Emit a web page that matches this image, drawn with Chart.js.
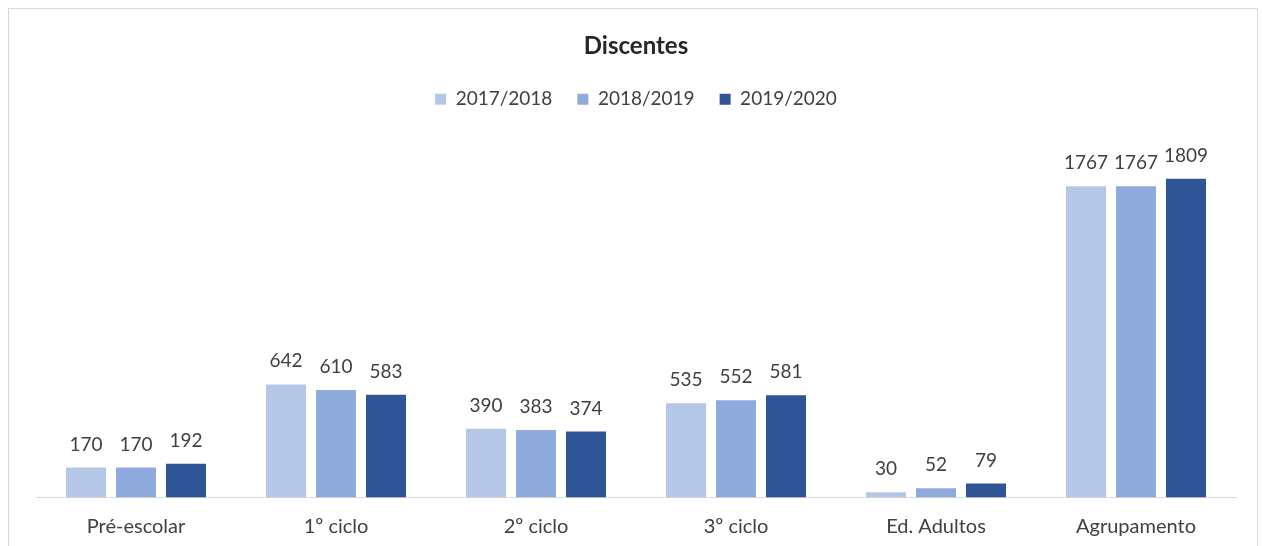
<!DOCTYPE html>
<html>
<head>
<meta charset="utf-8">
<script src="https://cdn.jsdelivr.net/npm/chart.js@4.4.1/dist/chart.umd.min.js"></script>
<style>
  html, body { margin: 0; padding: 0; background: #fff; }
  #wrap { position: relative; width: 1262px; height: 546px; overflow: hidden; }
  #frame { position: absolute; left: 8px; top: 8px; width: 1248px; height: 545px; border: 1px solid #d9d9d9; }
  canvas { position: absolute; left: 0; top: 0; }
</style>
</head>
<body>
<div id="wrap">
  <div id="frame"></div>
  <canvas id="chart" width="1262" height="546"></canvas>
</div>
<script>
const categories = ['Pré-escolar', '1º ciclo', '2º ciclo', '3º ciclo', 'Ed. Adultos', 'Agrupamento'];
const years = ['2017/2018', '2018/2019', '2019/2020'];
const values2017 = [170, 642, 390, 535, 30, 1767];
const values2018 = [170, 610, 383, 552, 52, 1767];
const values2019 = [192, 583, 374, 581, 79, 1809];
const colors = ['#b4c7e7', '#8faadc', '#2f5597'];

const FONT = 'Lato, "Open Sans", sans-serif';

// draws the value above each bar
const barLabels = {
  id: 'barLabels',
  afterDatasetsDraw(chart) {
    const ctx = chart.ctx;
    ctx.save();
    ctx.font = '19px ' + FONT;
    ctx.fillStyle = '#404040';
    ctx.textAlign = 'center';
    ctx.textBaseline = 'alphabetic';
    chart.data.datasets.forEach((ds, i) => {
      chart.getDatasetMeta(i).data.forEach((bar, j) => {
        ctx.fillText(ds.data[j], bar.x, bar.y - 17);
      });
    });
    ctx.restore();
  }
};

new Chart(document.getElementById('chart'), {
  type: 'bar',
  data: {
    labels: categories,
    datasets: [
      { label: years[0], data: values2017, backgroundColor: colors[0] },
      { label: years[1], data: values2018, backgroundColor: colors[1] },
      { label: years[2], data: values2019, backgroundColor: colors[2] }
    ]
  },
  options: {
    responsive: false,
    animation: false,
    layout: { padding: { left: 36, right: 26, top: 0, bottom: 0 } },
    datasets: { bar: { categoryPercentage: 0.75, barPercentage: 0.8 } },
    scales: {
      x: {
        grid: { display: false, drawTicks: false },
        border: { display: true, color: '#d9d9d9', width: 1 },
        ticks: { color: '#404040', font: { family: FONT, size: 20 }, padding: 17 },
        afterFit(scale) { scale.height = 48.5; }
      },
      y: { display: false, min: 0, max: 2150 }
    },
    plugins: {
      title: {
        display: true,
        text: 'Discentes',
        color: '#262626',
        font: { family: FONT, size: 24, weight: 'bold' },
        padding: { top: 32, bottom: 4 }
      },
      legend: {
        labels: {
          color: '#404040',
          font: { family: FONT, size: 19 },
          boxWidth: 11,
          boxHeight: 11,
          padding: 25
        }
      },
      tooltip: { enabled: false }
    }
  },
  plugins: [barLabels]
});
</script>
</body>
</html>
